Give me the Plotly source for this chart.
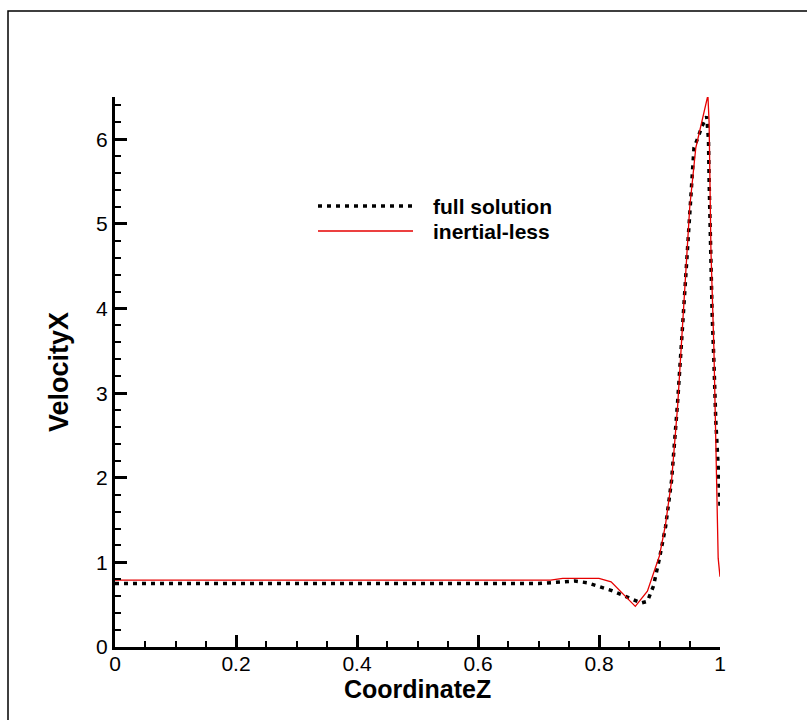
import plotly.graph_objects as go

# ---- data ----
full_x = [0, 0.1, 0.2, 0.3, 0.4, 0.5, 0.6, 0.7, 0.74, 0.76, 0.78, 0.8, 0.82, 0.84, 0.86,
          0.87, 0.88, 0.89, 0.9, 0.91, 0.92, 0.93, 0.94, 0.95, 0.957, 0.964, 0.97, 0.978,
          0.981, 0.982, 0.983, 0.985, 0.987, 0.99, 0.993, 0.997, 1.0]
full_y = [0.75, 0.75, 0.75, 0.75, 0.75, 0.75, 0.75, 0.75, 0.77, 0.78, 0.76, 0.72, 0.67, 0.61, 0.55,
          0.52, 0.54, 0.72, 1.05, 1.42, 1.97, 2.9, 4.0, 5.2, 5.9, 6.03, 6.15, 6.27,
          5.99, 5.52, 5.13, 4.66, 3.94, 3.36, 2.68, 2.13, 1.66]

inert_x = [0, 0.1, 0.2, 0.3, 0.4, 0.5, 0.6, 0.7, 0.72, 0.74, 0.8, 0.82, 0.84, 0.86, 0.88,
           0.9, 0.91, 0.92, 0.93, 0.94, 0.95, 0.96, 0.98, 0.982, 0.985, 0.99, 0.993,
           0.9945, 0.996, 0.997, 1.0]
inert_y = [0.79, 0.79, 0.79, 0.79, 0.79, 0.79, 0.79, 0.79, 0.79, 0.81, 0.81, 0.77, 0.62, 0.48, 0.66,
           1.08, 1.45, 1.97, 2.85, 4.0, 5.2, 5.9, 6.52, 6.2, 4.7, 3.5, 2.56,
           2.06, 1.54, 1.05, 0.83]

x_ticks = [0, 0.2, 0.4, 0.6, 0.8, 1.0]
x_tick_labels = ["0", "0.2", "0.4", "0.6", "0.8", "1"]
y_ticks = [0, 1, 2, 3, 4, 5, 6]

series_names = ["full solution", "inertial-less"]

FONT = "Liberation Sans, Arial, sans-serif"

fig = go.Figure()
fig.add_trace(go.Scatter(x=full_x, y=full_y, mode="lines", name=series_names[0],
                         line=dict(color="black", width=3.5, dash="4px,5px")))
fig.add_trace(go.Scatter(x=inert_x, y=inert_y, mode="lines", name=series_names[1],
                         line=dict(color="#e60000", width=1.3)))

L, R, T, B = 115, 87, 97, 73
W, H = 807, 720
pw, ph = W - L - R, H - T - B

def px(xp):
    return (xp - L) / pw

def py(yp):
    return (H - B - yp) / ph

axis_common = dict(
    showgrid=False, zeroline=False, showline=True, linecolor="black", linewidth=3,
    ticks="inside", ticklen=12, tickwidth=3, tickcolor="black",
    tickfont=dict(family=FONT, size=21, color="black"),
    mirror=False,
)

fig.update_layout(
    width=W, height=H,
    margin=dict(l=L, r=R, t=T, b=B),
    paper_bgcolor="white", plot_bgcolor="white",
    showlegend=False,
    xaxis=dict(range=[0, 1], tickvals=x_ticks, ticktext=x_tick_labels, ticklabelstandoff=-4,
               minor=dict(dtick=0.05, ticks="inside", ticklen=6, tickwidth=1.5, tickcolor="black"),
               **axis_common),
    yaxis=dict(range=[0, 6.5], tickvals=y_ticks,
               minor=dict(dtick=0.2, ticks="inside", ticklen=6, tickwidth=1.5, tickcolor="black"),
               **axis_common),
)

# axis titles
fig.add_annotation(text="<b>CoordinateZ</b>", xref="paper", yref="paper", x=0.5, y=0,
                   yanchor="middle", xanchor="center", yshift=-42, showarrow=False,
                   font=dict(family=FONT, size=25, color="black"))
fig.add_annotation(text="<b>VelocityX</b>", xref="paper", yref="paper", x=0, y=0.50,
                   xanchor="center", yanchor="middle", xshift=-56, textangle=-90, showarrow=False,
                   font=dict(family=FONT, size=27, color="black"))

# legend (drawn manually)
fig.add_shape(type="line", xref="paper", yref="paper", x0=px(318), x1=px(413), y0=py(206), y1=py(206),
              line=dict(color="black", width=3.5, dash="4px,5px"))
fig.add_shape(type="line", xref="paper", yref="paper", x0=px(318), x1=px(413), y0=py(231), y1=py(231),
              line=dict(color="#e60000", width=1.3))
fig.add_annotation(text="<b>" + series_names[0] + "</b>", xref="paper", yref="paper",
                   x=px(431), y=py(206), xanchor="left", yanchor="middle", showarrow=False,
                   font=dict(family=FONT, size=21, color="black"))
fig.add_annotation(text="<b>" + series_names[1] + "</b>", xref="paper", yref="paper",
                   x=px(431), y=py(231), xanchor="left", yanchor="middle", showarrow=False,
                   font=dict(family=FONT, size=21, color="black"))

# outer frame
fig.add_shape(type="rect", xref="paper", yref="paper", x0=px(8), x1=px(830), y0=py(740), y1=py(11),
              line=dict(color="black", width=1.5), fillcolor="rgba(0,0,0,0)", layer="below")

fig.write_html("out.html")
